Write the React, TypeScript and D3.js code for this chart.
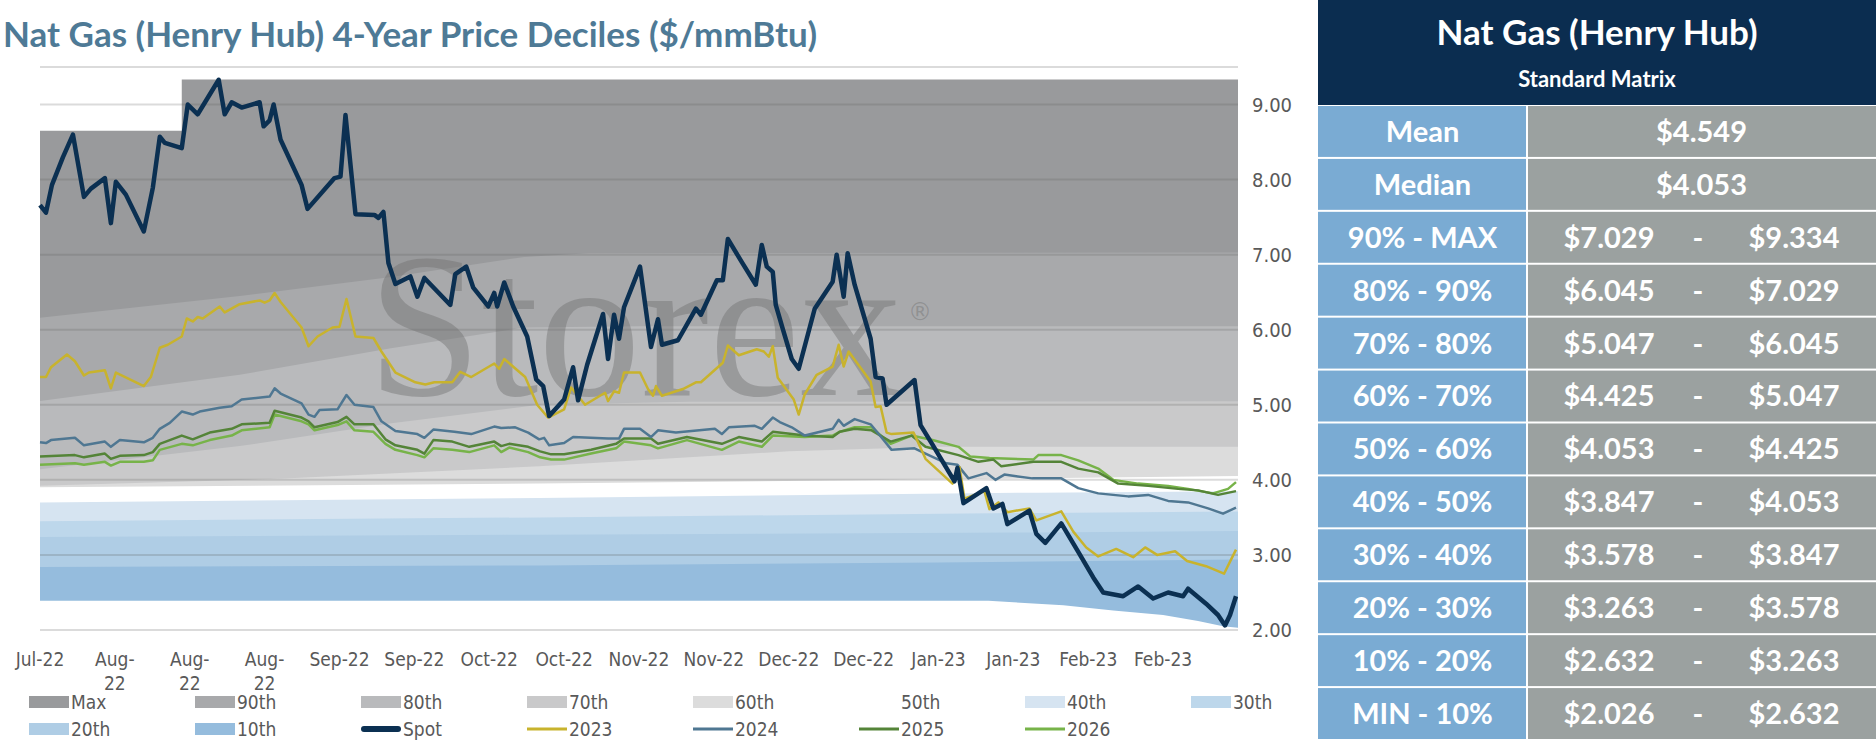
import * as d3 from 'd3';

type Pt = [number, number];

const TITLE = 'Nat Gas (Henry Hub) 4-Year Price Deciles ($/mmBtu)';
const TICK_LABELS = ['Jul-22', 'Aug-22', 'Aug-22', 'Aug-22', 'Sep-22', 'Sep-22', 'Oct-22', 'Oct-22', 'Nov-22', 'Nov-22', 'Dec-22', 'Dec-22', 'Jan-23', 'Jan-23', 'Feb-23', 'Feb-23'];
const TICK_DAYS = TICK_LABELS.map((_, i) => i * 15);
const Y_TICKS = [2, 3, 4, 5, 6, 7, 8, 9];

// decile boundaries [day, $]
const bandMax: Pt[] = [[0, 8.65], [28.4, 8.65], [28.4, 9.334], [240, 9.334]];
const band90: Pt[] = [[0, 6.16], [40, 6.45], [70, 6.7], [97, 6.97], [110, 7.02], [240, 7.029]];
const band80: Pt[] = [[0, 5.05], [40, 5.4], [70, 5.75], [97, 6.03], [120, 6.045], [240, 6.045]];
const band70: Pt[] = [[0, 4.14], [40, 4.45], [70, 4.75], [100, 5.0], [130, 5.04], [240, 5.047]];
const band60: Pt[] = [[0, 3.92], [50, 4.02], [100, 4.18], [150, 4.38], [180, 4.44], [240, 4.44]];
const band50: Pt[] = [[0, 3.9], [100, 3.95], [200, 4.02], [240, 4.05]];
const band40: Pt[] = [[0, 3.7], [100, 3.76], [200, 3.83], [240, 3.85]];
const band30: Pt[] = [[0, 3.45], [100, 3.5], [200, 3.56], [240, 3.58]];
const band20: Pt[] = [[0, 3.24], [100, 3.27], [200, 3.3], [240, 3.32]];
const band10: Pt[] = [[0, 2.84], [100, 2.86], [180, 2.9], [240, 2.94]];
const bandMin: Pt[] = [[0, 2.39], [190, 2.39], [195, 2.37], [205, 2.33], [215, 2.26], [225, 2.2], [232, 2.12], [237, 2.05], [240, 2.03]];

const spot: Pt[] = [[0, 7.66], [1.2, 7.56], [2.4, 7.93], [4.6, 8.3], [6.6, 8.6], [8.8, 7.77], [10.2, 7.88], [13, 8.02], [14.2, 7.42], [15.2, 7.97], [17.2, 7.8], [20.8, 7.31], [22.6, 7.89], [24, 8.57], [25, 8.49], [28.4, 8.42], [29.6, 9.0], [31.6, 8.87], [35.8, 9.33], [37, 8.87], [38.4, 9.03], [40.4, 8.96], [44, 9.03], [44.8, 8.71], [46, 8.79], [46.8, 9.0], [48.2, 8.53], [52.4, 7.93], [53.6, 7.61], [59, 8.02], [60.2, 8.04], [61.2, 8.86], [63.2, 7.54], [67, 7.53], [67.8, 7.49], [68.8, 7.57], [69.8, 6.89], [71.2, 6.61], [74.2, 6.71], [75.6, 6.44], [77, 6.69], [82.2, 6.33], [83.2, 6.74], [85.4, 6.84], [86.8, 6.56], [89.8, 6.31], [91, 6.49], [91.6, 6.31], [93, 6.63], [94.8, 6.31], [97.6, 5.91], [99.4, 5.34], [100.8, 5.25], [102, 4.85], [105, 5.07], [106.8, 5.5], [107.8, 5.06], [109.6, 5.53], [112.8, 6.21], [113.8, 5.61], [115, 6.2], [116, 5.88], [117, 6.3], [120.2, 6.84], [122.4, 5.77], [123.8, 6.14], [124.6, 5.8], [127.8, 5.86], [131.4, 6.28], [132.4, 6.2], [135.6, 6.66], [136.8, 6.66], [137.8, 7.21], [140.6, 6.9], [143.4, 6.6], [144.6, 7.13], [145.6, 6.84], [146.8, 6.77], [147.4, 6.33], [148.8, 6.01], [150.6, 5.61], [152, 5.48], [155.2, 6.28], [158.8, 6.64], [159.6, 7.0], [161, 6.44], [161.8, 7.02], [163.2, 6.6], [166.4, 5.88], [167.4, 5.37], [168.8, 5.35], [169.6, 5.0], [175.2, 5.33], [176.4, 4.73], [178.8, 4.47], [181.4, 4.18], [183.2, 3.98], [183.8, 4.16], [185, 3.69], [189.6, 3.89], [191, 3.62], [192.8, 3.68], [193.8, 3.41], [198.2, 3.59], [199.6, 3.28], [201.4, 3.16], [204.6, 3.42], [208, 3.04], [211, 2.7], [213, 2.5], [217, 2.45], [220, 2.58], [223, 2.42], [226, 2.5], [229, 2.45], [230, 2.55], [233.6, 2.35], [236, 2.2], [237.4, 2.06], [238.4, 2.2], [239.6, 2.45]];

const y2023: Pt[] = [[0, 5.37], [1.2, 5.37], [2.2, 5.5], [5.4, 5.67], [7, 5.58], [8.8, 5.39], [9.8, 5.43], [13, 5.46], [14.2, 5.22], [15.2, 5.43], [20.8, 5.25], [22.2, 5.37], [24, 5.76], [25.6, 5.8], [28.4, 5.91], [29.4, 6.15], [30.6, 6.11], [31.6, 6.17], [32.6, 6.15], [36, 6.31], [37, 6.23], [40, 6.34], [44, 6.39], [45, 6.36], [46, 6.39], [47, 6.49], [48.2, 6.37], [52.4, 6.03], [53.8, 5.78], [55.6, 5.91], [58.6, 6.03], [60, 6.04], [61.4, 6.41], [63.2, 5.91], [66.8, 5.89], [68.4, 5.71], [71.2, 5.43], [75.2, 5.3], [77.2, 5.27], [79, 5.3], [82.6, 5.3], [84.2, 5.44], [86.4, 5.37], [91, 5.55], [92, 5.48], [93, 5.61], [97.2, 5.37], [99.6, 5.0], [101.8, 4.83], [105, 4.94], [106.4, 5.23], [109.2, 5.0], [113.2, 5.16], [113.8, 5.05], [115, 5.18], [116, 5.16], [117, 5.43], [120.2, 5.43], [121.8, 5.21], [122.8, 5.12], [123.4, 5.25], [124.6, 5.12], [128.8, 5.21], [131.4, 5.3], [132.4, 5.3], [136.8, 5.56], [137.8, 5.79], [140, 5.66], [143.6, 5.74], [145, 5.71], [146, 5.64], [146.8, 5.78], [147.8, 5.36], [151, 5.07], [152, 4.87], [153.2, 5.14], [155.6, 5.4], [158.8, 5.51], [160, 5.8], [161, 5.51], [162, 5.71], [166.4, 5.31], [167.4, 4.97], [168.4, 4.98], [169.6, 4.63], [170.6, 4.61], [175, 4.63], [177.4, 4.28], [182.8, 3.95], [184.2, 4.17], [185.2, 3.75], [189.2, 3.85], [190.2, 3.61], [192, 3.7], [193.8, 3.57], [198.2, 3.62], [199.6, 3.46], [204.6, 3.58], [207, 3.31], [209.6, 3.1], [212, 2.98], [215.6, 3.08], [219, 2.97], [221.4, 3.1], [223.8, 3.0], [227.4, 3.05], [229.8, 2.92], [233.6, 2.85], [237.2, 2.75], [239.6, 3.07]];

const y2024: Pt[] = [[0, 4.5], [1.2, 4.49], [2.2, 4.53], [7, 4.56], [8.8, 4.46], [13, 4.51], [14.2, 4.44], [16, 4.53], [20.8, 4.5], [22.6, 4.56], [24, 4.68], [26, 4.76], [28.4, 4.91], [30.6, 4.87], [32, 4.91], [36, 4.96], [38.4, 4.98], [40.4, 5.07], [46, 5.11], [47, 5.22], [48.2, 5.15], [52.4, 5.02], [53.8, 4.87], [55, 4.84], [56, 4.93], [59.6, 4.94], [61.4, 5.13], [63, 5.0], [66.8, 4.97], [68.4, 4.78], [71.2, 4.65], [75.6, 4.61], [77, 4.56], [78.8, 4.67], [83, 4.64], [86.4, 4.61], [91, 4.71], [92.4, 4.69], [95.2, 4.7], [97.8, 4.63], [100, 4.54], [101, 4.56], [102, 4.46], [105, 4.49], [106.8, 4.57], [113.8, 4.55], [116, 4.55], [117, 4.68], [120.2, 4.68], [122.4, 4.57], [123.8, 4.66], [127.4, 4.63], [135.2, 4.68], [136.6, 4.61], [138, 4.7], [143.2, 4.72], [144.6, 4.68], [146.8, 4.83], [148.2, 4.77], [150.6, 4.7], [153.2, 4.59], [158.8, 4.68], [160, 4.8], [161, 4.72], [163.2, 4.81], [166.4, 4.74], [167.4, 4.66], [169, 4.53], [170.6, 4.4], [175.2, 4.42], [177.4, 4.35], [181.6, 4.22], [183.8, 4.2], [186, 4.02], [189.6, 4.09], [191.4, 4.0], [193.2, 4.07], [198.8, 4.02], [204.6, 4.02], [208, 3.89], [212, 3.82], [218, 3.78], [222, 3.8], [226, 3.72], [230, 3.7], [234, 3.62], [237, 3.55], [239.6, 3.63]];

const y2025: Pt[] = [[0, 4.31], [7, 4.33], [8.8, 4.3], [13, 4.35], [14.2, 4.28], [16, 4.32], [20.8, 4.33], [22.6, 4.37], [24, 4.48], [28.4, 4.59], [30.6, 4.54], [34, 4.63], [38.4, 4.68], [40.4, 4.74], [46, 4.76], [47, 4.92], [52.4, 4.83], [53.8, 4.78], [55, 4.7], [59.6, 4.77], [61.4, 4.84], [63, 4.74], [66.8, 4.74], [69.2, 4.54], [71.2, 4.46], [75.6, 4.4], [77, 4.35], [78.8, 4.53], [82.6, 4.51], [86, 4.44], [91, 4.51], [92.4, 4.45], [94, 4.48], [97.8, 4.44], [100.2, 4.38], [102.4, 4.34], [105, 4.34], [110.4, 4.4], [115.4, 4.48], [117, 4.55], [122.4, 4.55], [123.8, 4.48], [129.6, 4.57], [136.6, 4.48], [140, 4.57], [144.6, 4.51], [146.8, 4.64], [153.2, 4.59], [158.8, 4.57], [160.2, 4.64], [163.2, 4.68], [166.6, 4.66], [170.4, 4.51], [174.6, 4.59], [177.4, 4.44], [184, 4.33], [188, 4.24], [191, 4.27], [192.6, 4.18], [199, 4.24], [204.6, 4.24], [208, 4.15], [212, 4.1], [216, 3.95], [222, 3.92], [228, 3.88], [232, 3.86], [236, 3.8], [239.6, 3.85]];

const y2026: Pt[] = [[0, 4.2], [7, 4.22], [8.8, 4.2], [13, 4.24], [14.2, 4.19], [16, 4.24], [20.8, 4.24], [22.6, 4.26], [24, 4.4], [28.4, 4.48], [30.6, 4.46], [34, 4.53], [38.4, 4.59], [40.4, 4.66], [46, 4.7], [47, 4.87], [52.4, 4.78], [53.8, 4.74], [55, 4.66], [59.6, 4.73], [61.4, 4.78], [63, 4.66], [66.8, 4.64], [69.2, 4.48], [71.2, 4.4], [75.6, 4.33], [77, 4.3], [78.8, 4.42], [82.6, 4.4], [86, 4.37], [91, 4.46], [92.4, 4.37], [94, 4.43], [97.8, 4.37], [100.2, 4.3], [102.4, 4.27], [105, 4.27], [110.4, 4.35], [115.4, 4.42], [117, 4.51], [122.4, 4.46], [123.8, 4.42], [129.6, 4.53], [136.6, 4.4], [140, 4.51], [144.6, 4.44], [146.8, 4.59], [153.2, 4.57], [158.8, 4.59], [160.2, 4.64], [163.2, 4.7], [166.6, 4.7], [170.4, 4.48], [174.6, 4.59], [178.8, 4.53], [184, 4.44], [186.4, 4.31], [190.2, 4.29], [199, 4.27], [200, 4.33], [204.6, 4.33], [208, 4.26], [212, 4.15], [215, 4.0], [220, 3.95], [226, 3.92], [230, 3.88], [235, 3.82], [238, 3.88], [239.6, 3.97]];

const TABLE_ROWS = ['Mean', 'Median', '90% - MAX', '80% - 90%', '70% - 80%', '60% - 70%', '50% - 60%', '40% - 50%', '30% - 40%', '20% - 30%', '10% - 20%', 'MIN - 10%'];
const TABLE_LOW = ['$4.549', '$4.053', '$7.029', '$6.045', '$5.047', '$4.425', '$4.053', '$3.847', '$3.578', '$3.263', '$2.632', '$2.026'];
const TABLE_HIGH = ['', '', '$9.334', '$7.029', '$6.045', '$5.047', '$4.425', '$4.053', '$3.847', '$3.578', '$3.263', '$2.632'];

const W = 1876;
const H = 740;
const PLOT = { left: 40, right: 1238, top: 67, bottom: 630 };
const AXIS_FONT = '"DejaVu Sans Condensed", "Liberation Sans Narrow", "DejaVu Sans", sans-serif';
const TABLE_FONT = 'Lato, "Open Sans", sans-serif';

// painted top-down: each fills from its boundary to the plot bottom
const FILLS: { data: Pt[]; color: string }[] = [
  { data: bandMax, color: '#999a9c' },
  { data: band90, color: '#a8a9ab' },
  { data: band80, color: '#b9babc' },
  { data: band70, color: '#c9c9ca' },
  { data: band60, color: '#dcdcdc' },
  { data: band50, color: '#ffffff' },
  { data: band40, color: '#d6e4f1' },
  { data: band30, color: '#bdd7eb' },
  { data: band20, color: '#afcde5' },
  { data: band10, color: '#95bcdd' },
  { data: bandMin, color: '#ffffff' },
];

const LINES = [
  { data: y2026, color: '#77b349', width: 2.5 },
  { data: y2025, color: '#548438', width: 2.5 },
  { data: y2024, color: '#4f7792', width: 2.5 },
  { data: y2023, color: '#c8b32d', width: 2.5 },
  { data: spot, color: '#0b3052', width: 4.5 },
];

const LEGEND = [
  { name: 'Max', color: '#999a9c', kind: 'box' },
  { name: '90th', color: '#a8a9ab', kind: 'box' },
  { name: '80th', color: '#b9babc', kind: 'box' },
  { name: '70th', color: '#c9c9ca', kind: 'box' },
  { name: '60th', color: '#dcdcdc', kind: 'box' },
  { name: '50th', color: '#ffffff', kind: 'box' },
  { name: '40th', color: '#d6e4f1', kind: 'box' },
  { name: '30th', color: '#bdd7eb', kind: 'box' },
  { name: '20th', color: '#afcde5', kind: 'box' },
  { name: '10th', color: '#95bcdd', kind: 'box' },
  { name: 'Spot', color: '#0b3052', kind: 'spot' },
  { name: '2023', color: '#c8b32d', kind: 'line' },
  { name: '2024', color: '#4f7792', kind: 'line' },
  { name: '2025', color: '#548438', kind: 'line' },
  { name: '2026', color: '#77b349', kind: 'line' },
];

export default function App() {
  const x = d3.scaleLinear().domain([0, 240]).range([PLOT.left, PLOT.right]);
  const y = d3.scaleLinear().domain([2, 9.5]).range([PLOT.bottom, PLOT.top]);
  const area = d3.area<Pt>().x(d => x(d[0])).y0(PLOT.bottom).y1(d => y(d[1]));
  const line = d3.line<Pt>().x(d => x(d[0])).y(d => y(d[1]));

  const tx0 = 1318;
  const tSplit = 1527;
  const headerH = 105;
  const rowH = (H - headerH) / TABLE_ROWS.length;
  const cellText = { fontFamily: TABLE_FONT, fontWeight: 700, fontSize: 29, fill: '#fff', textAnchor: 'middle' as const, dy: '0.36em' };

  return (
    <svg width={W} height={H} style={{ position: 'absolute', left: 0, top: 0, background: '#fff' }}>
      <text x={3} y={47} fontFamily={TABLE_FONT} fontWeight={700} fontSize={35} fill="#4e7a96">{TITLE}</text>

      {FILLS.map((f, i) => <path key={i} d={area(f.data) ?? ''} fill={f.color} />)}

      {[...Y_TICKS, 9.5].map(t => (
        <line key={t} x1={PLOT.left} x2={PLOT.right} y1={y(t)} y2={y(t)} stroke="rgba(90,90,90,0.22)" strokeWidth={2} />
      ))}

      <text x={635} y={395} textAnchor="middle" fontFamily='"Liberation Serif", "DejaVu Serif", serif' fontSize={205} fill="rgba(110,110,110,0.42)">Storex</text>
      <text x={908} y={320} fontFamily='"DejaVu Sans", sans-serif' fontSize={24} fill="rgba(110,110,110,0.42)">®</text>

      {LINES.map((l, i) => (
        <path key={i} d={line(l.data) ?? ''} fill="none" stroke={l.color} strokeWidth={l.width} strokeLinejoin="round" />
      ))}

      {Y_TICKS.map(t => (
        <text key={t} x={1252} y={y(t)} dy="0.35em" fontFamily={AXIS_FONT} fontSize={20} fill="#595959">{t.toFixed(2)}</text>
      ))}

      {TICK_DAYS.map((d, i) => {
        const label = TICK_LABELS[i];
        const wrap = label.startsWith('Aug');
        return (
          <text key={i} x={x(d)} y={666} textAnchor="middle" fontFamily={AXIS_FONT} fontSize={19} fill="#595959">
            {wrap ? (
              <>
                <tspan x={x(d)}>{label.slice(0, 4)}</tspan>
                <tspan x={x(d)} dy={24}>{label.slice(4)}</tspan>
              </>
            ) : label}
          </text>
        );
      })}

      {LEGEND.map((item, i) => {
        const col = i < 8 ? i : i - 8;
        const lx = 29 + col * 166;
        const ly = i < 8 ? 702 : 729;
        return (
          <g key={item.name}>
            {item.kind === 'box' && <rect x={lx} y={ly - 6} width={40} height={12} fill={item.color} />}
            {item.kind === 'line' && <line x1={lx} x2={lx + 40} y1={ly} y2={ly} stroke={item.color} strokeWidth={3} />}
            {item.kind === 'spot' && <line x1={lx + 3} x2={lx + 37} y1={ly} y2={ly} stroke={item.color} strokeWidth={6} strokeLinecap="round" />}
            <text x={lx + 42} y={ly} dy="0.36em" fontFamily={AXIS_FONT} fontSize={19} fill="#595959">{item.name}</text>
          </g>
        );
      })}

      <rect x={tx0} y={0} width={W - tx0} height={headerH} fill="#0b2d50" />
      <text x={(tx0 + W) / 2} y={33} textAnchor="middle" dy="0.35em" fontFamily={TABLE_FONT} fontWeight={700} fontSize={35} fill="#fff">Nat Gas (Henry Hub)</text>
      <text x={(tx0 + W) / 2} y={79} textAnchor="middle" dy="0.35em" fontFamily={TABLE_FONT} fontWeight={700} fontSize={22} fill="#fff">Standard Matrix</text>
      {TABLE_ROWS.map((r, i) => {
        const ry = headerH + i * rowH;
        const cy = ry + rowH / 2;
        return (
          <g key={r}>
            <rect x={tx0} y={ry + 1} width={tSplit - tx0 - 1} height={rowH - 2} fill="#7aabd3" />
            <rect x={tSplit + 1} y={ry + 1} width={W - tSplit - 1} height={rowH - 2} fill="#9ba1a0" />
            <text x={(tx0 + tSplit) / 2} y={cy} {...cellText}>{r}</text>
            {TABLE_HIGH[i] === '' ? (
              <text x={(tSplit + W) / 2} y={cy} {...cellText}>{TABLE_LOW[i]}</text>
            ) : (
              <>
                <text x={1609} y={cy} {...cellText}>{TABLE_LOW[i]}</text>
                <text x={1698} y={cy} {...cellText}>-</text>
                <text x={1794} y={cy} {...cellText}>{TABLE_HIGH[i]}</text>
              </>
            )}
          </g>
        );
      })}
    </svg>
  );
}
